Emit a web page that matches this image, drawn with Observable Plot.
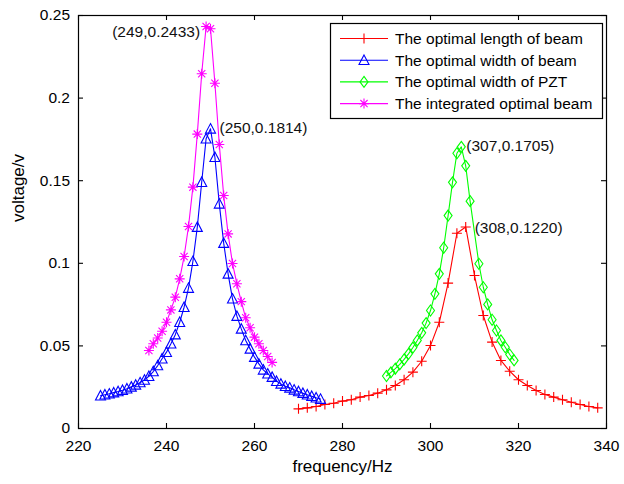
<!DOCTYPE html>
<html>
<head>
<meta charset="utf-8">
<script src="https://cdn.jsdelivr.net/npm/d3@7"></script>
<script src="https://cdn.jsdelivr.net/npm/@observablehq/plot@0.6"></script>
<style>
html, body { margin: 0; padding: 0; background: #fff; }
#chart { width: 624px; height: 484px; }
svg { font-family: "Liberation Sans", Arial, sans-serif; }
</style>
</head>
<body>
<div id="chart"></div>
<script>
// ---------- data ----------
const seriesNames = [
  "The optimal length of beam",
  "The optimal width of beam",
  "The optimal width of PZT",
  "The integrated optimal beam"
];
const seriesColors = ["#ff0000", "#0000ff", "#00ff00", "#ff00ff"];

// red: optimal length of beam
const lengthFreq = [270,272,274,276,278,280,282,284,286,288,290,292,294,296,298,300,302,304,306,308,
  310,312,314,316,318,320,322,324,326,328,330,332,334,336,338];
const lengthVolt = [0.0119,0.0125,0.0133,0.0145,0.0153,0.0166,0.0174,0.0190,0.0200,0.0214,
  0.0234,0.0260,0.0295,0.0341,0.0407,0.0502,0.0643,0.0880,0.1182,0.1220,
  0.0926,0.0684,0.0523,0.0412,0.0347,0.0295,0.0260,0.0230,0.0206,0.0190,
  0.0174,0.0159,0.0145,0.0133,0.0125];

// blue: optimal width of beam
const widthFreq = [225,226,227,228,229,230,231,232,233,234,235,236,237,238,239,240,241,242,243,244,
  245,246,247,248,249,250,251,252,253,254,255,256,257,258,259,260,261,262,263,264,
  265,266,267,268,269,270,271,272,273,274,275];
const widthVolt = [0.0198,0.0204,0.0210,0.0217,0.0224,0.0232,0.0241,0.0252,0.0264,0.0278,
  0.0294,0.0316,0.0345,0.0381,0.0422,0.0462,0.0513,0.0568,0.0643,0.0734,
  0.0850,0.1012,0.1219,0.1491,0.1754,0.1814,0.1642,0.1360,0.1122,0.0936,
  0.0785,0.0680,0.0603,0.0533,0.0482,0.0432,0.0391,0.0355,0.0331,0.0311,
  0.0286,0.0270,0.0256,0.0246,0.0234,0.0224,0.0214,0.0204,0.0195,0.0186,0.0178];

// green: optimal width of PZT
const pztFreq = [290,291,292,293,294,295,296,297,298,299,300,301,302,303,304,305,306,307,308,309,
  311,312,313,314,315,316,317,318,319];
const pztVolt = [0.0318,0.0340,0.0362,0.0388,0.0418,0.0452,0.0490,0.0533,0.0579,0.0638,
  0.0714,0.0815,0.0936,0.1094,0.1289,0.1490,0.1666,0.1705,0.1590,0.1376,
  0.0997,0.0855,0.0751,0.0658,0.0593,0.0533,0.0492,0.0448,0.0412];

// magenta: integrated optimal beam
const integFreq = [236,237,238,239,240,241,242,243,244,245,246,247,248,249,250,251,252,253,254,255,
  256,257,258,259,260,261,262,263,264];
const integVolt = [0.0472,0.0513,0.0548,0.0589,0.0643,0.0718,0.0795,0.0906,0.1041,0.1223,
  0.1461,0.1782,0.2147,0.2433,0.2420,0.2090,0.1719,0.1410,0.1178,0.0999,
  0.0876,0.0768,0.0670,0.0610,0.0553,0.0513,0.0472,0.0436,0.0400];

// peak annotations
const peakFreq = [249, 250, 307, 308];
const peakVolt = [0.2433, 0.1814, 0.1705, 0.1220];

const xTicks = [220, 240, 260, 280, 300, 320, 340];
const yTicks = [0, 0.05, 0.1, 0.15, 0.2, 0.25];
const xLabel = "frequency/Hz";
const yLabel = "voltage/v";

// ---------- symbols (MATLAB-like markers) ----------
const rad = size => Math.sqrt(size / Math.PI);
const plusSym = { draw(c, s) { const r = rad(s); c.moveTo(-r, 0); c.lineTo(r, 0); c.moveTo(0, -r); c.lineTo(0, r); } };
const triSym = { draw(c, s) { const r = rad(s); c.moveTo(0, -r * 1.05); c.lineTo(r, r * 0.85); c.lineTo(-r, r * 0.85); c.closePath(); } };
const diaSym = { draw(c, s) { const r = rad(s); c.moveTo(0, -r * 1.1); c.lineTo(r * 0.8, 0); c.lineTo(0, r * 1.1); c.lineTo(-r * 0.8, 0); c.closePath(); } };
const starSym = { draw(c, s) { const r = rad(s); const d = r * 0.72;
  c.moveTo(-r, 0); c.lineTo(r, 0); c.moveTo(0, -r); c.lineTo(0, r);
  c.moveTo(-d, -d); c.lineTo(d, d); c.moveTo(-d, d); c.lineTo(d, -d); } };

const series = [
  { name: seriesNames[0], color: seriesColors[0], freq: lengthFreq, volt: lengthVolt, symbol: plusSym, r: 5 },
  { name: seriesNames[1], color: seriesColors[1], freq: widthFreq, volt: widthVolt, symbol: triSym, r: 5 },
  { name: seriesNames[2], color: seriesColors[2], freq: pztFreq, volt: pztVolt, symbol: diaSym, r: 5 },
  { name: seriesNames[3], color: seriesColors[3], freq: integFreq, volt: integVolt, symbol: starSym, r: 5 }
];

const W = 624, H = 484;
const M = { left: 78, right: 18, top: 15, bottom: 56 };
const plotW = W - M.left - M.right, plotH = H - M.top - M.bottom;
const TICK = 5;
const FONT = 15.5;

const marks = [];
for (const s of series) {
  const data = s.freq.map((f, i) => ({ f, v: s.volt[i] }));
  marks.push(Plot.line(data, { x: "f", y: "v", stroke: s.color, strokeWidth: 1.1 }));
  marks.push(Plot.dot(data, { x: "f", y: "v", stroke: s.color, fill: "none", symbol: s.symbol, r: s.r, strokeWidth: 1.1 }));
}

const peaks = peakFreq.map((f, i) => ({ f, v: peakVolt[i], t: `(${f},${peakVolt[i].toFixed(4)})` }));
const peakStyle = [
  { textAnchor: "end", dx: -6, dy: 5 },
  { textAnchor: "start", dx: 9, dy: -1 },
  { textAnchor: "start", dx: 5, dy: -1 },
  { textAnchor: "start", dx: 9, dy: 1 }
];
peaks.forEach((p, i) => {
  marks.push(Plot.text([p], { x: "f", y: "v", text: "t", fontSize: FONT, fill: "#111", ...peakStyle[i] }));
});

const chart = Plot.plot({
  width: W,
  height: H,
  marginLeft: M.left,
  marginRight: M.right,
  marginTop: M.top,
  marginBottom: M.bottom,
  style: { fontFamily: '"Liberation Sans", Arial, sans-serif', fontSize: FONT + "px", color: "#000", background: "#fff" },
  x: { domain: [220, 340] },
  y: { domain: [0, 0.25] },
  marks: [
    ...marks,
    // inward tick marks on all four sides (MATLAB box style)
    Plot.tickX(xTicks, { x: d => d, insetTop: plotH - TICK, stroke: "black", strokeWidth: 1.1 }),
    Plot.tickX(xTicks, { x: d => d, insetBottom: plotH - TICK, stroke: "black", strokeWidth: 1.1 }),
    Plot.tickY(yTicks, { y: d => d, insetRight: plotW - TICK, stroke: "black", strokeWidth: 1.1 }),
    Plot.tickY(yTicks, { y: d => d, insetLeft: plotW - TICK, stroke: "black", strokeWidth: 1.1 }),
    Plot.axisX(xTicks, { anchor: "bottom", tickSize: 0, tickPadding: 11, tickFormat: d => String(d), fontSize: FONT, label: null }),
    Plot.axisY(yTicks, { anchor: "left", tickSize: 0, tickPadding: 8.5, tickFormat: d => String(+d.toFixed(2)), fontSize: FONT, label: null }),
    Plot.frame({ stroke: "black", strokeWidth: 1.2 }),
    Plot.text([xLabel], { frameAnchor: "bottom", dy: 38, text: d => d, fontSize: 17, lineAnchor: "middle" }),
    Plot.text([yLabel], { frameAnchor: "left", dx: -60, rotate: -90, text: d => d, fontSize: 17, lineAnchor: "middle" })
  ]
});

// ---------- legend inside the axes (top-right) ----------
const svg = d3.select(chart);
const frameRight = W - M.right, frameTop = M.top;
const lg = { x0: 330, x1: frameRight - 4, y0: frameTop + 8, rowH: 21.7 };
const g = svg.append("g").attr("class", "legend").attr("text-anchor", "start");
g.append("rect")
  .attr("x", lg.x0 + 0.5).attr("y", lg.y0 + 0.5)
  .attr("width", lg.x1 - lg.x0).attr("height", 95)
  .attr("fill", "#fff").attr("stroke", "black").attr("stroke-width", 1.2);
series.forEach((s, i) => {
  const cy = lg.y0 + 15.5 + i * lg.rowH;
  g.append("line").attr("x1", lg.x0 + 10).attr("x2", lg.x0 + 58).attr("y1", cy).attr("y2", cy)
    .attr("stroke", s.color).attr("stroke-width", 1.1);
  const p = d3.path();
  s.symbol.draw(p, s.r * s.r * Math.PI);
  g.append("path").attr("d", p.toString()).attr("transform", `translate(${lg.x0 + 34},${cy})`)
    .attr("fill", "none").attr("stroke", s.color).attr("stroke-width", 1.1);
  g.append("text").attr("x", lg.x0 + 65).attr("y", cy).attr("dy", "0.35em")
    .attr("text-anchor", "start")
    .attr("font-size", FONT).attr("fill", "#000").text(s.name);
});

document.getElementById("chart").appendChild(chart);
</script>
</body>
</html>
